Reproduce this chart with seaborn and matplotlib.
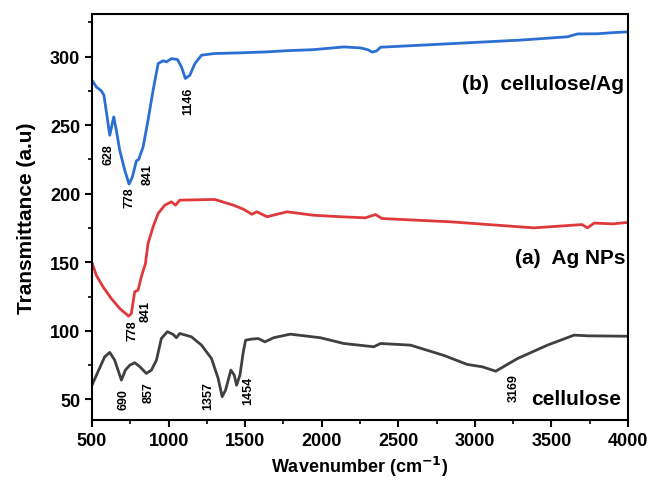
import numpy as np
import pandas as pd
import matplotlib
matplotlib.use("Agg")
import matplotlib.pyplot as plt
from matplotlib.ticker import MultipleLocator
import seaborn as sns

# (b) cellulose/Ag
cag_x = [500, 528, 561, 578, 594, 616, 642, 659, 681, 714, 742, 764, 790, 805, 834, 866,
         899, 932, 964, 986, 1019, 1058, 1084, 1110, 1139, 1172, 1215, 1300, 1468, 1643,
         1780, 1945, 2144, 2253, 2300, 2330, 2360, 2384, 2600, 2951, 3300, 3605, 3670,
         3800, 3900, 4000]
cag_y = [282.7, 277.9, 275.0, 271.8, 259.7, 242.6, 256.0, 246.3, 231.7, 217.1, 207.0,
         212.3, 224.0, 225.0, 234.2, 253.6, 275.4, 294.9, 296.9, 296.1, 298.5, 297.8,
         292.5, 284.0, 286.4, 294.9, 301.0, 302.2, 302.7, 303.4, 304.3, 305.0, 307.0,
         306.3, 305.0, 303.2, 304.2, 306.8, 308.0, 310.0, 312.0, 314.4, 316.5, 316.6,
         317.4, 318.0]

# (a) Ag NPs
ag_x = [500, 528, 572, 626, 681, 740, 757, 779, 801, 822, 849, 866, 899, 932, 975, 1019,
        1045, 1073, 1302, 1424, 1489, 1544, 1577, 1643, 1773, 1947, 2122, 2285, 2351,
        2394, 2841, 3386, 3583, 3700, 3735, 3779, 3900, 4000]
ag_y = [149.6, 140.6, 132.1, 123.6, 116.3, 110.7, 112.7, 128.5, 129.7, 139.4, 149.1,
        163.7, 175.9, 185.6, 191.6, 194.1, 191.6, 195.3, 195.8, 191.6, 188.7, 185.0,
        186.8, 183.2, 186.8, 184.3, 183.2, 182.4, 184.8, 181.9, 179.5, 175.1, 176.6,
        177.5, 175.1, 178.6, 178.0, 179.1]

# cellulose
cel_x = [500, 539, 583, 616, 648, 692, 718, 747, 779, 812, 855, 888, 921, 953, 992, 1030,
         1051, 1073, 1149, 1215, 1280, 1324, 1350, 1372, 1407, 1429, 1444, 1466, 1488,
         1503, 1542, 1586, 1629, 1686, 1795, 1991, 2144, 2340, 2384, 2580, 2800, 2951,
         3049, 3136, 3278, 3474, 3648, 3735, 3986, 4000]
cel_y = [60.4, 70.2, 81.1, 84.3, 78.7, 64.1, 71.4, 75.0, 76.8, 73.9, 69.0, 71.4, 78.7,
         94.5, 99.4, 97.4, 95.0, 98.1, 95.7, 89.6, 79.9, 65.3, 52.0, 56.8, 71.4, 67.7,
         60.4, 67.7, 84.7, 93.2, 94.0, 94.4, 92.0, 95.0, 97.6, 95.0, 90.8, 88.4, 90.8,
         89.6, 82.0, 75.5, 73.8, 70.6, 79.8, 89.6, 96.9, 96.4, 96.1, 96.1]

# peak labels: (text, x, y)
peaks = [("628", 605, 229), ("778", 742, 198), ("841", 866, 215), ("1146", 1128, 268),
         ("778", 766, 100.5), ("841", 853, 115),
         ("690", 705, 50.7), ("857", 868, 55.6), ("1357", 1261, 53), ("1454", 1522, 56.8),
         ("3169", 3256, 59.3)]

sns.set_style("ticks")
plt.rcParams['font.family'] = ['Liberation Sans', 'DejaVu Sans']
plt.rcParams.update({"text.color": "black", "axes.labelcolor": "black",
                     "xtick.color": "black", "ytick.color": "black"})

fig = plt.figure(figsize=(6.51, 4.89), dpi=100)
ax = fig.add_axes([0.1413, 0.139, 0.8234, 0.8303])

sns.lineplot(x=cel_x, y=cel_y, ax=ax, color="#404040", lw=2, sort=False)
sns.lineplot(x=ag_x, y=ag_y, ax=ax, color="#e0393b", lw=2, sort=False)
sns.lineplot(x=cag_x, y=cag_y, ax=ax, color="#2b6fd3", lw=2, sort=False)

for txt, px, py in peaks:
    ax.text(px, py, txt, rotation=90, ha="center", va="center",
            fontsize=9, fontweight="bold", color="black")

ax.text(3973, 280.3, "(b)  cellulose/Ag", ha="right", va="center", fontsize=15, fontweight="bold")
ax.text(3986, 153.5, "(a)  Ag NPs", ha="right", va="center", fontsize=15, fontweight="bold")
ax.text(3953, 50.7, "cellulose", ha="right", va="center", fontsize=15, fontweight="bold")

ax.set_xlim(500, 4000)
ax.set_ylim(35, 331)
ax.xaxis.set_major_locator(MultipleLocator(500))
ax.xaxis.set_minor_locator(MultipleLocator(250))
ax.yaxis.set_major_locator(MultipleLocator(50))
ax.yaxis.set_minor_locator(MultipleLocator(25))
ax.set_yticks([50, 100, 150, 200, 250, 300])

ax.set_xlabel("Wavenumber (cm$^{\\mathbf{-1}}$)", fontsize=13, fontweight="bold", labelpad=4)
ax.set_ylabel("Transmittance (a.u)", fontsize=15, fontweight="bold", labelpad=10)
ax.tick_params(axis="both", which="major", direction="out", length=5, width=1.5,
               labelsize=13, color="black")
ax.tick_params(axis="both", which="minor", direction="out", length=3, width=1.2, color="black")
for lab in ax.get_xticklabels() + ax.get_yticklabels():
    lab.set_fontweight("bold")
for sp in ax.spines.values():
    sp.set_visible(True)
    sp.set_linewidth(1.5)
    sp.set_color("black")

fig.savefig("out.png", dpi=100)
